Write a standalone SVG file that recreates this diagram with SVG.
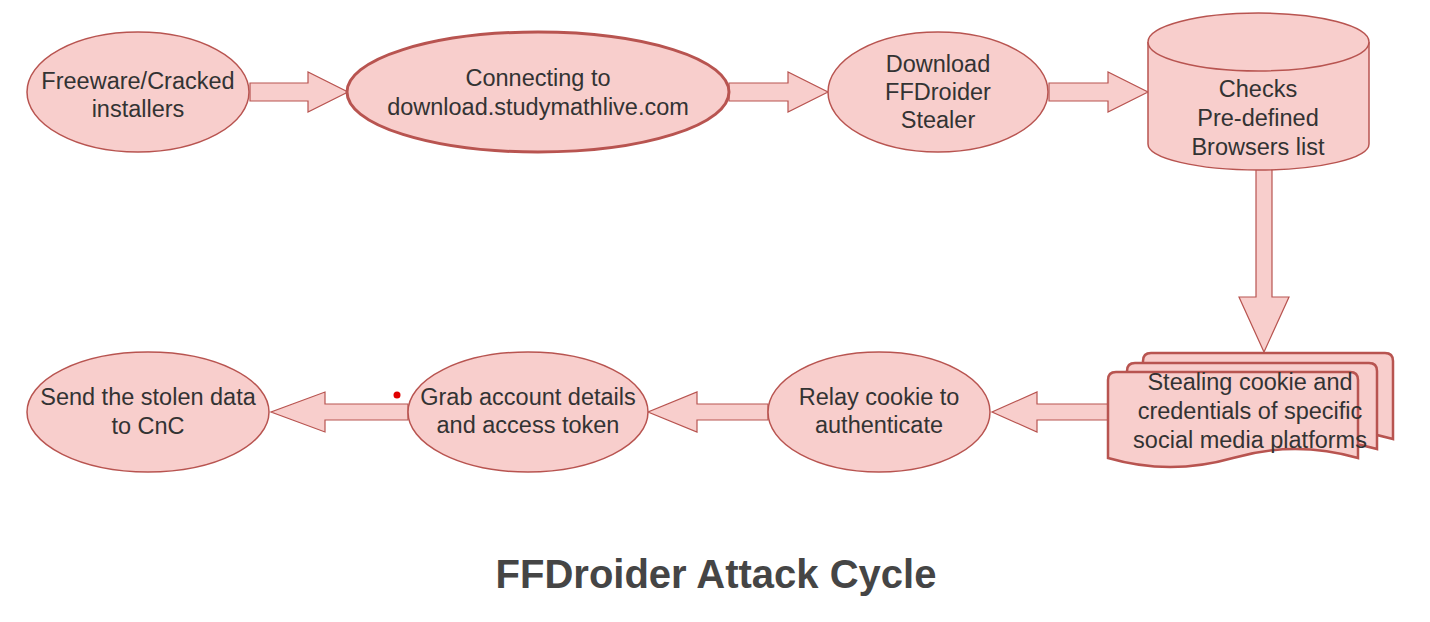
<svg xmlns="http://www.w3.org/2000/svg" width="1430" height="622" viewBox="0 0 1430 622">
<style>
.n{fill:#f8cecc;stroke:#b85450;stroke-width:1.5}
.thick{stroke-width:3}
.doc{fill:#f8cecc;stroke:#b85450;stroke-width:2.5}
.c{fill:#f8cecc;stroke:#b85450;stroke-width:1.2}
.t{font-family:"Liberation Sans",Arial,sans-serif;font-size:23.5px;fill:#333;text-anchor:middle}
.title{font-family:"Liberation Sans",Arial,sans-serif;font-size:40px;font-weight:bold;fill:#454545;text-anchor:middle}
</style>
<defs>
<path id="page" d="M0,86 L0,8 Q0,0 8,0 L242,0 Q250,0 250,8 L250,86 Q187,68 125,86 Q62,104 0,86 Z"/>
</defs>
<rect width="1430" height="622" fill="#fff"/>
<g id="connectors">
<polygon class="c" points="250,83 308,83 308,72 348,92 308,112 308,101 250,101"/>
<polygon class="c" points="729,83 788,83 788,72 828,92 788,112 788,101 729,101"/>
<polygon class="c" points="1049,83 1108,83 1108,72 1148,92 1108,112 1108,101 1049,101"/>
<polygon class="c" points="1256,168 1272,168 1272,297 1289,297 1264,352 1239,297 1256,297"/>
<polygon class="c" points="1108,404 1037,404 1037,392 992,412 1037,432 1037,420 1108,420"/>
<polygon class="c" points="768,404 697,404 697,392 648,412 697,432 697,420 768,420"/>
<polygon class="c" points="408,404 325,404 325,392 271,412 325,432 325,420 408,420"/>
</g>
<g id="n1">
<ellipse class="n" cx="138" cy="92" rx="111" ry="60"/>
<text class="t" x="138" y="89">Freeware/Cracked</text>
<text class="t" x="138" y="117">installers</text>
</g>
<g id="n2">
<ellipse class="n thick" cx="538" cy="92" rx="191" ry="60"/>
<text class="t" x="538" y="86">Connecting to</text>
<text class="t" x="538" y="115">download.studymathlive.com</text>
</g>
<g id="n3">
<ellipse class="n" cx="938" cy="92" rx="110" ry="60"/>
<text class="t" x="938" y="72">Download</text>
<text class="t" x="938" y="100">FFDroider</text>
<text class="t" x="938" y="128">Stealer</text>
</g>
<g id="n4">
<path class="n" d="M1148,42 L1148,144 A110.5,26 0 0 0 1369,144 L1369,42 A110.5,29 0 0 0 1148,42 Z"/>
<path class="n" fill="none" d="M1148,42 A110.5,29 0 0 0 1369,42"/>
<text class="t" x="1258" y="97">Checks</text>
<text class="t" x="1258" y="126">Pre-defined</text>
<text class="t" x="1258" y="155">Browsers list</text>
</g>
<g id="n5">
<use href="#page" class="doc" transform="translate(1143,353)"/>
<use href="#page" class="doc" transform="translate(1127,363)"/>
<use href="#page" class="doc" transform="translate(1108,372)"/>
<text class="t" x="1250" y="390">Stealing cookie and</text>
<text class="t" x="1250" y="419">credentials of specific</text>
<text class="t" x="1250" y="448">social media platforms</text>
</g>
<g id="n6">
<ellipse class="n" cx="879" cy="412" rx="111" ry="60"/>
<text class="t" x="879" y="405">Relay cookie to</text>
<text class="t" x="879" y="433">authenticate</text>
</g>
<g id="n7">
<ellipse class="n" cx="528" cy="412" rx="120" ry="60"/>
<text class="t" x="528" y="405">Grab account details</text>
<text class="t" x="528" y="433">and access token</text>
</g>
<g id="n8">
<ellipse class="n" cx="148" cy="412" rx="121" ry="60"/>
<text class="t" x="148" y="405">Send the stolen data</text>
<text class="t" x="148" y="434">to CnC</text>
</g>
<circle cx="397" cy="395" r="3.5" fill="#e00000"/>
<text class="title" x="716" y="588">FFDroider Attack Cycle</text>
</svg>
